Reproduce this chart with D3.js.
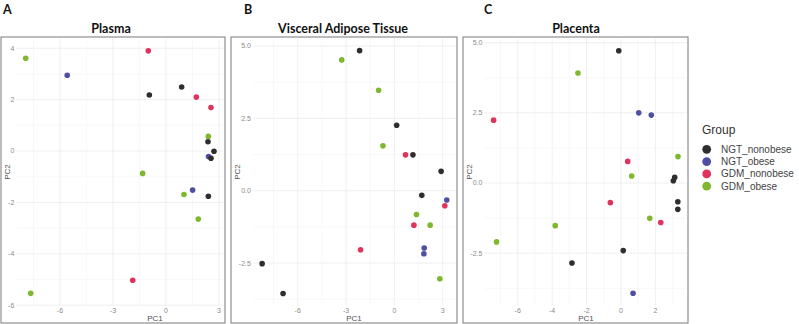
<!DOCTYPE html>
<html lang="en">
<head>
<meta charset="UTF-8" />
<title>PCA by tissue</title>
<script src="https://d3js.org/d3.v7.min.js"></script>
<style>
  body { margin: 0; background: #fff; }
  .tick-label { font-family: "Liberation Sans", Arial, sans-serif; font-size: 7px; fill: #8a8a8a; }
  .axis-title { font-family: "Liberation Sans", Arial, sans-serif; font-size: 8px; fill: #505050; }
  .panel-title { font-family: Lato, "Open Sans", sans-serif; font-weight: bold; font-size: 12.5px; fill: #111; }
  .panel-letter { font-family: Lato, "Open Sans", sans-serif; font-weight: bold; font-size: 12.5px; fill: #111; }
</style>
</head>
<body>
<svg id="chart" width="799" height="324"></svg>
<script>
// groups and colours
const groups = ["NGT_nonobese", "NGT_obese", "GDM_nonobese", "GDM_obese"];
const groupColors = ["#2e2e2e", "#4e4fa3", "#e0335c", "#7db82e"];

// Plasma
const plasmaPC1 = [-7.94, -5.59, -1.0, 0.89, -0.94, 1.72, 2.55, 2.4, 2.38, 2.72, 2.41, 2.55, -1.32, 1.51, 1.02, 2.4, 1.83, -1.88, -7.66];
const plasmaPC2 = [3.61, 2.95, 3.9, 2.49, 2.18, 2.1, 1.69, 0.57, 0.36, -0.01, -0.21, -0.28, -0.87, -1.52, -1.69, -1.76, -2.65, -5.03, -5.54];
const plasmaGroup = ["GDM_obese", "NGT_obese", "GDM_nonobese", "NGT_nonobese", "NGT_nonobese", "GDM_nonobese", "GDM_nonobese",
  "GDM_obese", "NGT_nonobese", "NGT_nonobese", "NGT_obese", "NGT_nonobese", "GDM_obese", "NGT_obese", "GDM_obese",
  "NGT_nonobese", "GDM_obese", "GDM_nonobese", "GDM_obese"];
const plasmaXTicks = [-6, -3, 0, 3];
const plasmaYTicks = [-6, -4, -2, 0, 2, 4];

// Visceral adipose tissue
const vatPC1 = [-2.16, -3.27, -0.98, 0.14, -0.71, 0.69, 1.15, 2.9, 1.7, 3.25, 3.13, 1.37, 1.21, 2.22, 1.85, 1.83, -2.1, -8.21, -6.91, 2.82];
const vatPC2 = [4.84, 4.52, 3.47, 2.26, 1.55, 1.24, 1.24, 0.67, -0.16, -0.32, -0.52, -0.82, -1.19, -1.19, -1.98, -2.18, -2.04, -2.52, -3.55, -3.04];
const vatGroup = ["NGT_nonobese", "GDM_obese", "GDM_obese", "NGT_nonobese", "GDM_obese", "GDM_nonobese", "NGT_nonobese",
  "NGT_nonobese", "NGT_nonobese", "NGT_obese", "GDM_nonobese", "GDM_obese", "GDM_nonobese", "GDM_obese", "NGT_obese",
  "NGT_obese", "GDM_nonobese", "NGT_nonobese", "NGT_nonobese", "GDM_obese"];
const vatXTicks = [-6, -3, 0, 3];
const vatYTicks = [-2.5, 0, 2.5, 5];

// Placenta
const placentaPC1 = [-0.13, -2.5, 1.03, 1.76, -7.4, 3.31, 0.39, 0.62, 3.12, 3.04, 3.3, 3.3, -0.62, 1.67, 2.31, -3.82, -7.23, 0.13, -2.85, 0.7];
const placentaPC2 = [4.71, 3.92, 2.5, 2.42, 2.24, 0.94, 0.77, 0.25, 0.2, 0.08, -0.67, -0.94, -0.7, -1.26, -1.41, -1.52, -2.1, -2.41, -2.85, -3.93];
const placentaGroup = ["NGT_nonobese", "GDM_obese", "NGT_obese", "NGT_obese", "GDM_nonobese", "GDM_obese", "GDM_nonobese",
  "GDM_obese", "NGT_nonobese", "NGT_nonobese", "NGT_nonobese", "NGT_nonobese", "GDM_nonobese", "GDM_obese", "GDM_nonobese",
  "GDM_obese", "GDM_obese", "NGT_nonobese", "NGT_nonobese", "NGT_obese"];
const placentaXTicks = [-6, -4, -2, 0, 2];
const placentaYTicks = [-2.5, 0, 2.5, 5];

const svg = d3.select("#chart");
const color = d3.scaleOrdinal().domain(groups).range(groupColors);
const hyphen = s => s.replace("\u2212", "-");

const panels = [
  { letter: "A", title: "Plasma", pc1: plasmaPC1, pc2: plasmaPC2, grp: plasmaGroup, xt: plasmaXTicks, yt: plasmaYTicks,
    box: [1, 225], letterX: 3, titleX: 111, xr: [16.3, 223.4], yr: [305.5, 38.7], pc1X: 155, pc2X: 7, yfmt: d3.format("d") },
  { letter: "B", title: "Visceral Adipose Tissue", pc1: vatPC1, pc2: vatPC2, grp: vatGroup, xt: vatXTicks, yt: vatYTicks,
    box: [231, 457], letterX: 244, titleX: 343, xr: [252.9, 456], yr: [305.6, 38.5], pc1X: 354, pc2X: 237, yfmt: d3.format(".1f") },
  { letter: "C", title: "Placenta", pc1: placentaPC1, pc2: placentaPC2, grp: placentaGroup, xt: placentaXTicks, yt: placentaYTicks,
    box: [463, 688], letterX: 484, titleX: 576, xr: [484.4, 687.2], yr: [305.4, 38.7], pc1X: 586, pc2X: 468.5, yfmt: d3.format(".1f") }
];

function expanded(vals) {
  const [lo, hi] = d3.extent(vals);
  const pad = (hi - lo) * 0.05;
  return [lo - pad, hi + pad];
}

panels.forEach(p => {
  const x = d3.scaleLinear().domain(expanded(p.pc1)).range(p.xr);
  const y = d3.scaleLinear().domain(expanded(p.pc2)).range(p.yr);
  const g = svg.append("g");

  // minor grid (midpoints between major ticks)
  const xStep = p.xt[1] - p.xt[0];
  const yStep = p.yt[1] - p.yt[0];
  const xMinor = d3.range(p.xt[0] - xStep * 2.5, p.xt[p.xt.length - 1] + xStep * 2, xStep)
    .filter(v => v > x.domain()[0] && v < x.domain()[1]);
  const yMinor = d3.range(p.yt[0] - yStep * 2.5, p.yt[p.yt.length - 1] + yStep * 2, yStep)
    .filter(v => v > y.domain()[0] && v < y.domain()[1]);

  g.selectAll("line.xminor").data(xMinor).join("line")
    .attr("x1", d => x(d)).attr("x2", d => x(d))
    .attr("y1", p.yr[0]).attr("y2", p.yr[1])
    .attr("stroke", "#f4f4f4").attr("stroke-width", 0.6);
  g.selectAll("line.yminor").data(yMinor).join("line")
    .attr("y1", d => y(d)).attr("y2", d => y(d))
    .attr("x1", p.xr[0]).attr("x2", p.xr[1])
    .attr("stroke", "#f4f4f4").attr("stroke-width", 0.6);

  // major grid
  g.selectAll("line.xmajor").data(p.xt).join("line")
    .attr("x1", d => x(d)).attr("x2", d => x(d))
    .attr("y1", p.yr[0]).attr("y2", p.yr[1])
    .attr("stroke", "#ebebeb").attr("stroke-width", 0.8);
  g.selectAll("line.ymajor").data(p.yt).join("line")
    .attr("y1", d => y(d)).attr("y2", d => y(d))
    .attr("x1", p.xr[0]).attr("x2", p.xr[1])
    .attr("stroke", "#ebebeb").attr("stroke-width", 0.8);

  // tick labels
  g.selectAll("text.xt").data(p.xt).join("text")
    .attr("class", "tick-label")
    .attr("x", d => x(d)).attr("y", 313)
    .attr("text-anchor", "middle")
    .text(d => hyphen(d3.format("d")(d)));
  g.selectAll("text.yt").data(p.yt).join("text")
    .attr("class", "tick-label")
    .attr("x", p.xr[0] - 2).attr("y", d => y(d))
    .attr("dy", "0.35em")
    .attr("text-anchor", "end")
    .text(d => hyphen(p.yfmt(d)));

  // axis titles
  g.append("text").attr("class", "axis-title")
    .attr("x", p.pc1X).attr("y", 321)
    .attr("text-anchor", "middle").text("PC1");
  g.append("text").attr("class", "axis-title")
    .attr("transform", `translate(${p.pc2X + 3},172) rotate(-90)`)
    .attr("text-anchor", "middle").text("PC2");

  // points
  g.selectAll("circle").data(p.pc1.map((v, i) => ({ x: v, y: p.pc2[i], g: p.grp[i] })))
    .join("circle")
    .attr("cx", d => x(d.x)).attr("cy", d => y(d.y))
    .attr("r", 2.8)
    .attr("fill", d => color(d.g));

  // border
  svg.append("rect")
    .attr("x", p.box[0]).attr("y", 37)
    .attr("width", p.box[1] - p.box[0]).attr("height", 286)
    .attr("fill", "none").attr("stroke", "#8f8f8f").attr("stroke-width", 1.2);

  // titles
  svg.append("text").attr("class", "panel-title")
    .attr("x", p.titleX).attr("y", 32.5)
    .attr("text-anchor", "middle").text(p.title);
  svg.append("text").attr("class", "panel-letter")
    .attr("x", p.letterX).attr("y", 13.5).text(p.letter);
});

// legend
const legend = svg.append("g").attr("transform", "translate(702,0)");
legend.append("text")
  .attr("x", 0).attr("y", 134)
  .style("font-family", "Liberation Sans, Arial, sans-serif")
  .style("font-size", "12px").style("fill", "#333")
  .text("Group");
legend.selectAll("circle").data(groups).join("circle")
  .attr("cx", 4.7).attr("cy", (d, i) => 149.3 + i * 12.3)
  .attr("r", 4.4).attr("fill", d => color(d));
legend.selectAll("text.item").data(groups).join("text")
  .attr("class", "item")
  .attr("x", 19).attr("y", (d, i) => 149.3 + i * 12.3)
  .attr("dy", "0.35em")
  .style("font-family", "Liberation Sans, Arial, sans-serif")
  .style("font-size", "10px").style("fill", "#444")
  .text(d => d);
</script>
</body>
</html>
